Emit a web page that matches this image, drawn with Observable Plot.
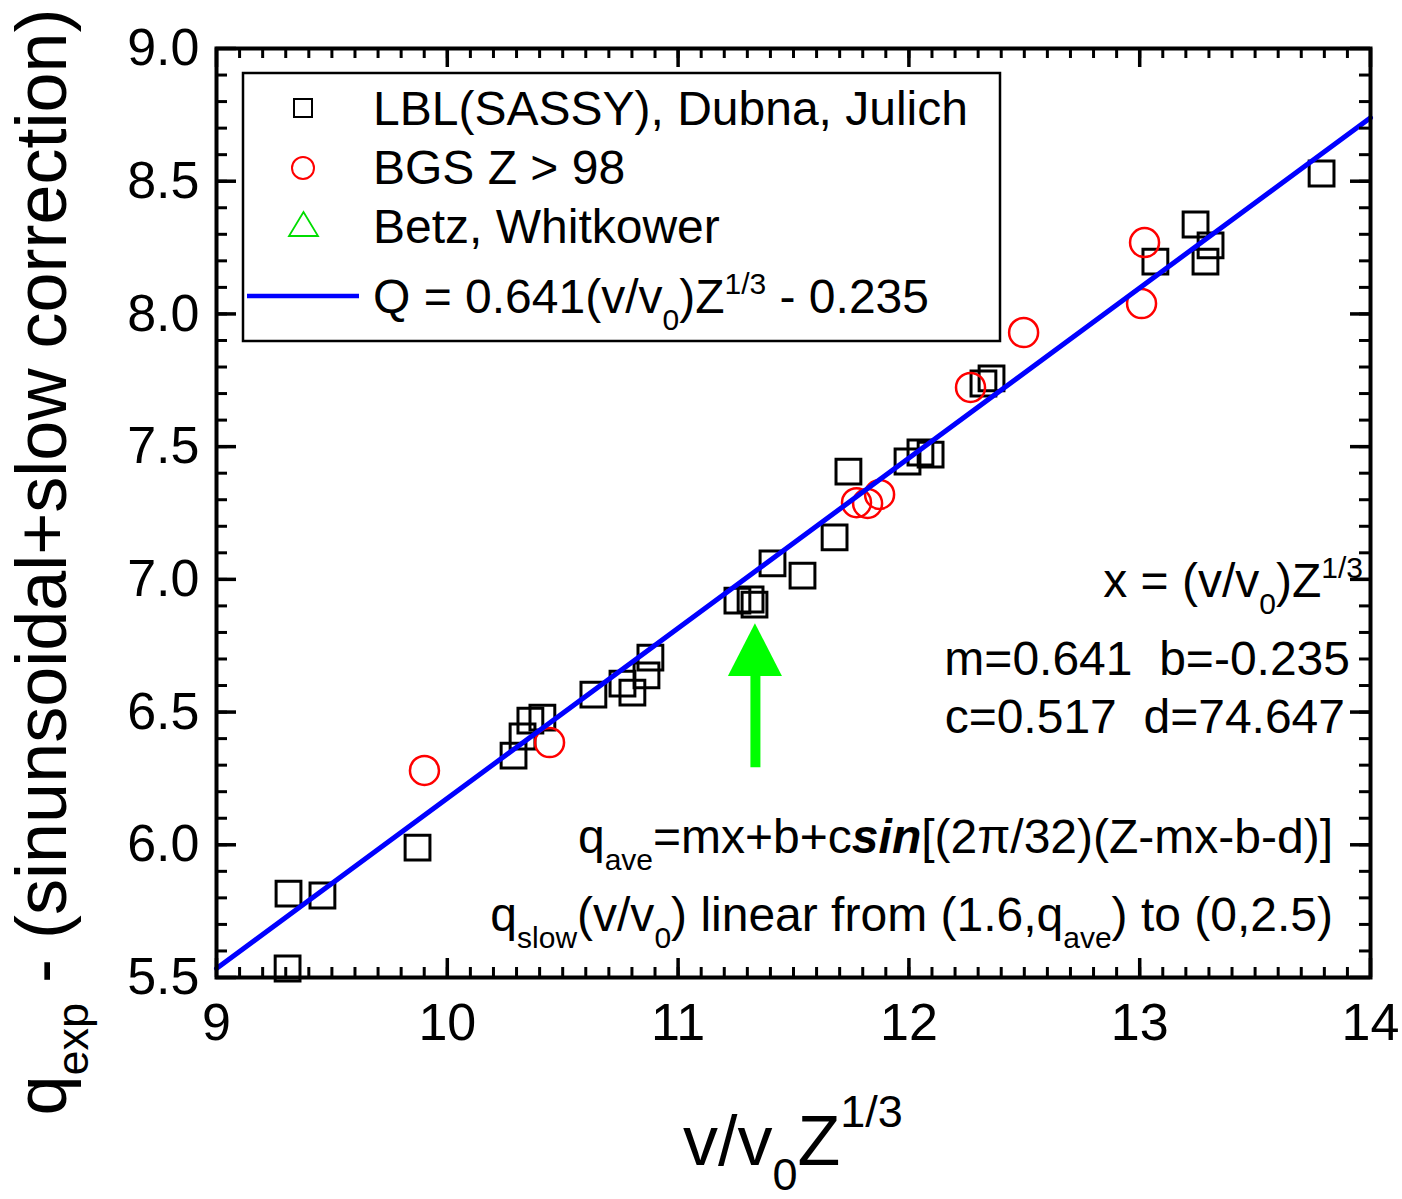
<!DOCTYPE html>
<html><head><meta charset="utf-8">
<script src="https://cdn.jsdelivr.net/npm/d3@7"></script>
<script src="https://cdn.jsdelivr.net/npm/@observablehq/plot@0.6"></script>
<style>html,body{margin:0;padding:0;background:#fff} svg{display:block}</style>
</head><body><div id="chart"></div>
<script>
// ---- data ----
const lblX = [9.308, 9.312, 9.459, 9.871, 10.287, 10.326, 10.360, 10.412, 10.633, 10.759, 10.802, 10.863, 10.880, 11.257, 11.314, 11.331, 11.409, 11.539, 11.678, 11.738, 11.994, 12.050, 12.094, 12.323, 12.358, 13.068, 13.242, 13.285, 13.307, 13.788];
const lblY = [5.534, 5.816, 5.809, 5.989, 6.336, 6.408, 6.468, 6.479, 6.566, 6.607, 6.573, 6.638, 6.705, 6.920, 6.924, 6.905, 7.060, 7.014, 7.158, 7.406, 7.444, 7.478, 7.470, 7.738, 7.757, 8.197, 8.337, 8.197, 8.258, 8.529];
const bgsX = [9.901, 10.443, 11.773, 11.821, 11.873, 12.267, 12.497, 13.008, 13.021];
const bgsY = [6.280, 6.385, 7.289, 7.286, 7.320, 7.723, 7.930, 8.039, 8.269];
const fitSlope = 0.641, fitIntercept = -0.235;
const fitX = [9, 14];
const xTicks = [9, 10, 11, 12, 13, 14];
const yTicks = [5.5, 6.0, 6.5, 7.0, 7.5, 8.0, 8.5, 9.0];
const xMinor = d3.range(9, 14.0001, 0.1);
const yMinor = d3.range(5.5, 9.0001, 0.1);
const arrowX = 11.335, arrowTail = 6.29, arrowBase = 6.634, arrowTip = 6.833, arrowHalf = 0.117;

// ---- layout ----
const W = 1402, H = 1199, mL = 216, mR = 32, mT = 48, mB = 222;
const plotW = W - mL - mR, plotH = H - mT - mB;
const font = "'Liberation Sans', Arial, Helvetica, sans-serif";

const lbl = lblX.map((x, i) => ({x, y: lblY[i]}));
const bgs = bgsX.map((x, i) => ({x, y: bgsY[i]}));
const fit = fitX.map(x => ({x, y: fitSlope * x + fitIntercept}));
const head = [
  {x: arrowX - arrowHalf, y1: arrowBase, y2: arrowBase},
  {x: arrowX, y1: arrowBase, y2: arrowTip},
  {x: arrowX + arrowHalf, y1: arrowBase, y2: arrowBase}
];

const chart = Plot.plot({
  width: W, height: H,
  marginLeft: mL, marginRight: mR, marginTop: mT, marginBottom: mB,
  x: {domain: [9, 14], axis: null},
  y: {domain: [5.5, 9], axis: null},
  style: {fontFamily: font, background: "white", color: "black"},
  marks: [
    Plot.dot(lbl, {x: "x", y: "y", symbol: "square", r: 14, stroke: "black", strokeWidth: 3, fill: "none"}),
    Plot.dot(bgs, {x: "x", y: "y", symbol: "circle", r: 14.5, stroke: "#ff0000", strokeWidth: 2.5, fill: "none"}),
    Plot.ruleX([arrowX], {x: d => d, y1: arrowTail, y2: arrowBase, stroke: "#00ff00", strokeWidth: 10}),
    Plot.areaY(head, {x: "x", y1: "y1", y2: "y2", fill: "#00ff00"}),
    Plot.line(fit, {x: "x", y: "y", stroke: "#0000ff", strokeWidth: 5}),
    // inward ticks on all four sides
    Plot.tickX(xMinor, {x: d => d, insetTop: plotH - 10, stroke: "black", strokeWidth: 3}),
    Plot.tickX(xMinor, {x: d => d, insetBottom: plotH - 10, stroke: "black", strokeWidth: 3}),
    Plot.tickX(xTicks, {x: d => d, insetTop: plotH - 19, stroke: "black", strokeWidth: 3.5}),
    Plot.tickX(xTicks, {x: d => d, insetBottom: plotH - 19, stroke: "black", strokeWidth: 3.5}),
    Plot.tickY(yMinor, {y: d => d, insetRight: plotW - 11, stroke: "black", strokeWidth: 3}),
    Plot.tickY(yMinor, {y: d => d, insetLeft: plotW - 11, stroke: "black", strokeWidth: 3}),
    Plot.tickY(yTicks, {y: d => d, insetRight: plotW - 20, stroke: "black", strokeWidth: 3.5}),
    Plot.tickY(yTicks, {y: d => d, insetLeft: plotW - 20, stroke: "black", strokeWidth: 3.5}),
    Plot.frame({stroke: "black", strokeWidth: 4}),
    // tick labels
    Plot.text(xTicks, {x: d => d, frameAnchor: "bottom", dy: 62, text: d => String(d), fontSize: 52, fill: "black"}),
    Plot.text(yTicks, {y: d => d, frameAnchor: "left", dx: -17, textAnchor: "end", text: d => d3.format(".1f")(d), fontSize: 52, fill: "black"})
  ]
});
document.getElementById("chart").appendChild(chart);

// ---- text overlays (legend, annotations, axis titles) ----
const svg = d3.select(chart);
const g = svg.append("g").attr("font-family", font).attr("fill", "black").style("white-space", "pre");

function rich(parent, x, y, size, anchor, parts, transform) {
  const t = parent.append("text").attr("x", x).attr("y", y).attr("font-size", size).attr("text-anchor", anchor);
  if (transform) t.attr("transform", transform);
  let cur = 0;
  for (const p of parts) {
    const s = t.append("tspan").text(p.t);
    const off = p.off || 0;
    if (off !== cur) { s.attr("dy", off - cur); cur = off; }
    if (p.size) s.attr("font-size", p.size);
    if (p.bold) s.attr("font-weight", "bold");
    if (p.italic) s.attr("font-style", "italic");
  }
  return t;
}

// legend
const lg = g.append("g");
lg.append("rect").attr("x", 243).attr("y", 73).attr("width", 757).attr("height", 268)
  .attr("fill", "white").attr("stroke", "black").attr("stroke-width", 2.5);
lg.append("rect").attr("x", 294).attr("y", 99).attr("width", 18).attr("height", 18)
  .attr("fill", "none").attr("stroke", "black").attr("stroke-width", 2);
lg.append("ellipse").attr("cx", 303).attr("cy", 168).attr("rx", 11).attr("ry", 11)
  .attr("fill", "none").attr("stroke", "#ff0000").attr("stroke-width", 2);
lg.append("path").attr("d", "M289,236 L318,236 L303.5,212 Z")
  .attr("fill", "none").attr("stroke", "#00dd00").attr("stroke-width", 1.8);
lg.append("line").attr("x1", 247).attr("x2", 359).attr("y1", 296).attr("y2", 296)
  .attr("stroke", "#0000ff").attr("stroke-width", 4.5);
rich(lg, 373, 125, 48, "start", [{t: "LBL(SASSY), Dubna, Julich"}]);
rich(lg, 373, 184, 48, "start", [{t: "BGS Z > 98"}]);
rich(lg, 373, 243, 48, "start", [{t: "Betz, Whitkower"}]);
rich(lg, 373, 313, 48, "start", [
  {t: "Q = 0.641(v/v"}, {t: "0", size: 30, off: 17}, {t: ")Z"}, {t: "1/3", size: 30, off: -19}, {t: " - 0.235"}
]);

// annotations
rich(g, 1363, 597, 48, "end", [
  {t: "x = (v/v"}, {t: "0", size: 30, off: 17}, {t: ")Z"}, {t: "1/3", size: 30, off: -19}
]);
rich(g, 1350, 675, 48, "end", [{t: "m=0.641  b=-0.235"}]);
rich(g, 1345, 733, 48, "end", [{t: "c=0.517  d=74.647"}]);
rich(g, 1333, 853, 48, "end", [
  {t: "q"}, {t: "ave", size: 30, off: 17}, {t: "=mx+b+c"}, {t: "sin", bold: true, italic: true},
  {t: "[(2π/32)(Z-mx-b-d)]"}
]);
rich(g, 1333, 931, 48, "end", [
  {t: "q"}, {t: "slow", size: 30, off: 17}, {t: "(v/v"}, {t: "0", size: 30, off: 17},
  {t: ") linear from (1.6,q"}, {t: "ave", size: 30, off: 17}, {t: ") to (0,2.5)"}
]);

// axis titles
rich(g, 683, 1165, 70, "start", [
  {t: "v/v"}, {t: "0", size: 45, off: 25}, {t: "Z"}, {t: "1/3", size: 45, off: -38}
]);
rich(g, 0, 0, 72, "middle", [
  {t: "q"}, {t: "exp", size: 45, off: 22}, {t: " - (sinunsoidal+slow correction)"}
], "translate(66,562) rotate(-90)");
</script>
</body></html>
